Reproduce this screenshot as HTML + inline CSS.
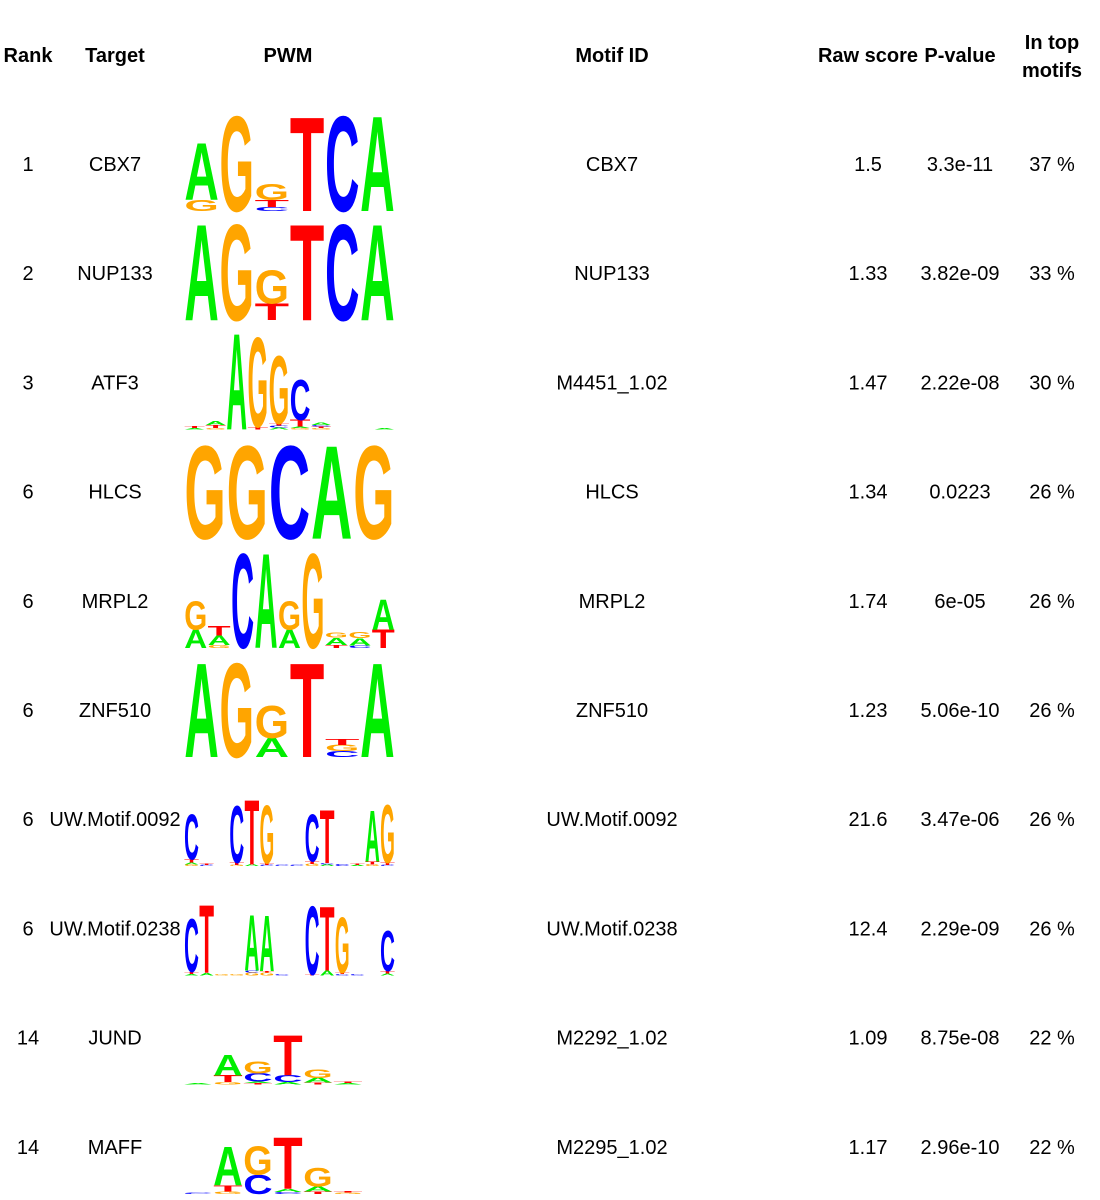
<!DOCTYPE html>
<html><head><meta charset="utf-8"><style>
html,body{margin:0;padding:0;background:#fff;}
svg{display:block;}
text{font-family:"Liberation Sans",Arial,sans-serif;}
</style></head><body>
<svg id="chart" width="1100" height="1200" viewBox="0 0 1100 1200" xmlns="http://www.w3.org/2000/svg">
<g id="header" font-weight="bold" font-size="20" text-anchor="middle" fill="#000">
<text x="28" y="62">Rank</text>
<text x="115" y="62">Target</text>
<text x="288" y="62">PWM</text>
<text x="612" y="62">Motif ID</text>
<text x="868" y="62">Raw score</text>
<text x="960" y="62">P-value</text>
<text x="1052" y="49">In top</text>
<text x="1052" y="77">motifs</text>
</g>
<g id="rows"></g>
</svg>
<script>
const ranks = ["1","2","3","6","6","6","6","6","14","14"];
const targets = ["CBX7","NUP133","ATF3","HLCS","MRPL2","ZNF510","UW.Motif.0092","UW.Motif.0238","JUND","MAFF"];
const motifIds = ["CBX7","NUP133","M4451_1.02","HLCS","MRPL2","ZNF510","UW.Motif.0092","UW.Motif.0238","M2292_1.02","M2295_1.02"];
const rawScores = ["1.5","1.33","1.47","1.34","1.74","1.23","21.6","12.4","1.09","1.17"];
const pValues = ["3.3e-11","3.82e-09","2.22e-08","0.0223","6e-05","5.06e-10","3.47e-06","2.29e-09","8.75e-08","2.96e-10"];
const inTop = ["37 %","33 %","30 %","26 %","26 %","26 %","26 %","26 %","22 %","22 %"];
// PWM logos: each column is a stack of [letter, bits] from bottom to top
const logoCBX7 = [[["G",0.23],["A",1.17]],[["G",1.96]],[["C",0.08],["T",0.15],["G",0.33]],[["T",1.94]],[["C",1.96]],[["A",1.96]]];
const logoNUP133 = [[["A",1.98]],[["G",1.98]],[["T",0.35],["G",0.69]],[["T",1.98]],[["C",1.98]],[["A",1.98]]];
const logoATF3 = [[["A",0.03],["T",0.04]],[["G",0.03],["T",0.06],["A",0.08]],[["A",1.98]],[["T",0.05],["G",1.84]],[["A",0.04],["C",0.04],["T",0.04],["G",1.4]],[["G",0.03],["A",0.03],["T",0.14],["C",0.83]],[["G",0.03],["T",0.03],["C",0.03],["A",0.05]],[],[],[["A",0.03]]];
const logoHLCS = [[["G",1.92]],[["G",1.92]],[["C",1.92]],[["A",1.92]],[["G",1.92]]];
const logoMRPL2 = [[["A",0.38],["G",0.59]],[["G",0.06],["A",0.2],["T",0.2]],[["C",1.95]],[["A",1.95]],[["A",0.38],["G",0.59]],[["G",1.95]],[["T",0.06],["A",0.15],["G",0.1]],[["C",0.05],["A",0.15],["G",0.12]],[["T",0.38],["A",0.62]]];
const logoZNF510 = [[["A",1.94]],[["G",1.94]],[["A",0.4],["G",0.66]],[["T",1.94]],[["C",0.12],["G",0.13],["T",0.12]],[["A",1.94]]];
const logoUW0092 = [[["G",0.04],["A",0.04],["T",0.06],["C",0.94]],[["C",0.03],["T",0.03]],[],[["G",0.03],["T",0.05],["C",1.18]],[["A",0.04],["T",1.34]],[["C",0.03],["T",0.04],["G",1.2]],[["C",0.03]],[["C",0.02]],[["G",0.05],["T",0.05],["C",0.98]],[["A",0.04],["C",0.03],["T",1.1]],[["C",0.04]],[["A",0.02],["T",0.02]],[["G",0.04],["T",0.06],["A",1.05]],[["C",0.03],["T",0.05],["G",1.2]]];
const logoUW0238 = [[["A",0.03],["T",0.04],["C",1.1]],[["A",0.05],["T",1.4]],[["G",0.02]],[["G",0.02]],[["G",0.06],["C",0.04],["A",1.15]],[["G",0.06],["T",0.03],["A",1.15]],[["C",0.02]],[],[["T",0.02],["C",1.42]],[["A",0.1],["T",1.32]],[["C",0.03],["T",0.03],["G",1.15]],[["C",0.02]],[],[["A",0.04],["T",0.05],["C",0.83]]];
const logoJUND = [[["A",0.03]],[["G",0.05],["T",0.14],["A",0.42]],[["T",0.03],["A",0.03],["C",0.17],["G",0.25]],[["A",0.05],["C",0.15],["T",0.83]],[["T",0.04],["A",0.1],["G",0.17]],[["A",0.03],["T",0.03]]];
const logoMAFF = [[["C",0.02]],[["G",0.05],["T",0.12],["A",0.8]],[["C",0.4],["G",0.59]],[["C",0.04],["A",0.06],["T",1.07]],[["T",0.05],["A",0.1],["G",0.38]],[["G",0.03],["T",0.03]]];
const logos = [logoCBX7,logoNUP133,logoATF3,logoHLCS,logoMRPL2,logoZNF510,logoUW0092,logoUW0238,logoJUND,logoMAFF];

const NS = "http://www.w3.org/2000/svg";
const colors = {A:"#00ee00",C:"#0000ff",G:"#ffa500",T:"#ff0000"};
const rowTop = 100, rowH = 109.2, bitPx = 48, capH = 69;
function rowCenter(i){ return rowTop + rowH*i + 64; }
function baseline(i){ return rowCenter(i) + 47; }
const rowsG = document.getElementById('rows');
function txt(parent, x, y, s, name, anchor){
  const t = document.createElementNS(NS,'text');
  t.setAttribute('x',x); t.setAttribute('y',y);
  t.setAttribute('font-size','20'); t.setAttribute('text-anchor',anchor||'middle');
  t.textContent = s;
  
  
  parent.appendChild(t);
}
function colGeom(i, n){
  if (i === 8 || i === 9) return {x0:183, w:30};
  return {x0:184, w:211/n};
}
logos.forEach((logo, i) => {
  const g = document.createElementNS(NS,'g');
  
  
  rowsG.appendChild(g);
  const ty = rowCenter(i) + 7;
  txt(g, 28, ty, ranks[i], 'rank-cell');
  txt(g, 115, ty, targets[i], 'target-cell');
  txt(g, 612, ty, motifIds[i], 'motif-id-cell');
  txt(g, 868, ty, rawScores[i], 'raw-score-cell');
  txt(g, 960, ty, pValues[i], 'p-value-cell');
  txt(g, 1052, ty, inTop[i], 'in-top-cell');
  const lg = document.createElementNS(NS,'g');
  
  
  g.appendChild(lg);
  const geo = colGeom(i, logo.length);
  const by = baseline(i);
  logo.forEach((col, c) => {
    let y = by;
    const x = geo.x0 + geo.w*c;
    col.forEach(([L, bits]) => {
      const h = bits*bitPx;
      if (h < 0.5) return;
      const t = document.createElementNS(NS,'text');
      
      
      t.setAttribute('x', 0); t.setAttribute('y', 0);
      t.setAttribute('font-size','100'); t.setAttribute('font-weight','bold');
      t.setAttribute('textLength', (geo.w*0.98).toFixed(2));
      t.setAttribute('lengthAdjust','spacingAndGlyphs');
      t.setAttribute('fill', colors[L]);
      t.setAttribute('transform', 'translate(' + (x+geo.w*0.01).toFixed(2) + ',' + y.toFixed(2) + ') scale(1,' + (h/capH).toFixed(4) + ')');
      t.textContent = L;
      lg.appendChild(t);
      y -= h;
    });
  });
});
</script>
</body></html>
